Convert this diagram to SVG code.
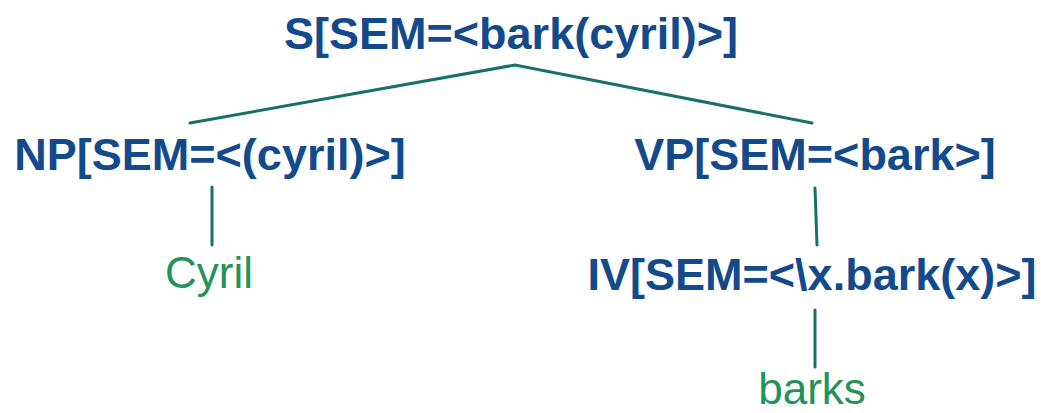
<svg xmlns="http://www.w3.org/2000/svg" width="1041" height="413" viewBox="0 0 1041 413">
  <style>
    .cat { font-family: "Liberation Sans", Arial, sans-serif; font-weight: bold; font-size: 45px; fill: #134a8c; text-anchor: middle; }
    .leaf { font-family: "Liberation Sans", Arial, sans-serif; font-size: 44px; fill: #23935a; text-anchor: middle; }
    .edge { stroke: #17706a; stroke-width: 3; fill: none; stroke-linecap: round; }
  </style>
  <rect width="1041" height="413" fill="#ffffff"/>
  <g id="connectors">
    <path class="edge" d="M190 123 L515 65 L812 123"/>
    <line class="edge" x1="212" y1="187" x2="212" y2="245"/>
    <line class="edge" x1="815" y1="188" x2="817" y2="245"/>
    <line class="edge" x1="815" y1="310" x2="815" y2="367"/>
  </g>
  <g id="node-s">
    <text class="cat" x="511" y="49">S[SEM=&lt;bark(cyril)&gt;]</text>
  </g>
  <g id="node-np">
    <text class="cat" x="210" y="170">NP[SEM=&lt;(cyril)&gt;]</text>
  </g>
  <g id="node-vp">
    <text class="cat" x="815" y="170">VP[SEM=&lt;bark&gt;]</text>
  </g>
  <g id="node-cyril">
    <text class="leaf" x="209" y="288">Cyril</text>
  </g>
  <g id="node-iv">
    <text class="cat" x="812" y="290">IV[SEM=&lt;\x.bark(x)&gt;]</text>
  </g>
  <g id="node-barks">
    <text class="leaf" x="812" y="404">barks</text>
  </g>
</svg>
